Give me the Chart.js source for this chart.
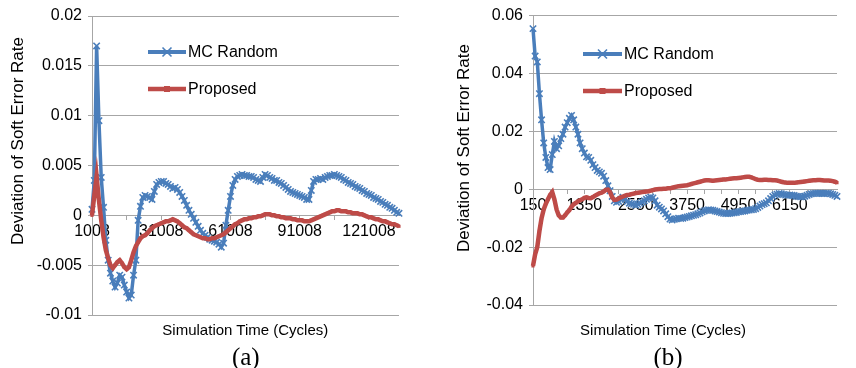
<!DOCTYPE html>
<html>
<head>
<meta charset="utf-8">
<script src="https://cdn.jsdelivr.net/npm/chart.js@4.4.1/dist/chart.umd.min.js"></script>
<style>
  html, body { margin: 0; padding: 0; background: #fff; }
  #wrap { position: relative; width: 856px; height: 368px; overflow: hidden; background: #fff;
          font-family: "Liberation Sans", Arial, sans-serif; color: #000; }
  canvas { position: absolute; top: 0; }
  .t { position: absolute; white-space: nowrap; text-align: center; }
  .ytitle { width: 300px; height: 20px; line-height: 20px; font-size: 17px; transform: rotate(-90deg); transform-origin: 50% 50%; }
  .xtitle { width: 300px; height: 20px; line-height: 20px; font-size: 15px; }
  .cap { width: 60px; height: 30px; line-height: 30px; font-size: 25px; font-family: "Liberation Serif", "Times New Roman", serif; }
  .leg { position: absolute; height: 20px; line-height: 20px; font-size: 16px; white-space: nowrap; }
  .legsw { position: absolute; }
</style>
</head>
<body>
<div id="wrap">
  <canvas id="ca" width="430" height="368" style="left:0;width:430px;height:368px"></canvas>
  <canvas id="cb" width="426" height="368" style="left:430px;width:426px;height:368px"></canvas>

  <div class="t ytitle" style="left:-131.7px;top:130.8px">Deviation of Soft Error Rate</div>
  <div class="t xtitle" style="left:95.3px;top:320px">Simulation Time (Cycles)</div>
  <div class="t cap" style="left:215.8px;top:342px">(a)</div>

  <div class="t ytitle" style="left:314.3px;top:137.5px">Deviation of Soft Error Rate</div>
  <div class="t xtitle" style="left:513px;top:320px">Simulation Time (Cycles)</div>
  <div class="t cap" style="left:638px;top:342px">(b)</div>

  <svg class="legsw" style="left:148px;top:46px" width="38" height="12"><line x1="0" y1="6" x2="38" y2="6" stroke="#4a7ebb" stroke-width="4"/><path d="M14.5 1.5 L23.5 10.5 M23.5 1.5 L14.5 10.5" stroke="#4a7ebb" stroke-width="1.6"/></svg>
  <div class="leg" style="left:188px;top:42px">MC Random</div>
  <svg class="legsw" style="left:148px;top:83px" width="38" height="12"><line x1="0" y1="6" x2="38" y2="6" stroke="#be4b48" stroke-width="4.5"/><rect x="16" y="3" width="6" height="6" fill="#be4b48"/></svg>
  <div class="leg" style="left:188px;top:79px">Proposed</div>

  <svg class="legsw" style="left:583px;top:48px" width="39" height="12"><line x1="0" y1="6" x2="39" y2="6" stroke="#4a7ebb" stroke-width="4"/><path d="M15 1.5 L24 10.5 M24 1.5 L15 10.5" stroke="#4a7ebb" stroke-width="1.6"/></svg>
  <div class="leg" style="left:624px;top:44px">MC Random</div>
  <svg class="legsw" style="left:583px;top:85px" width="39" height="12"><line x1="0" y1="6" x2="39" y2="6" stroke="#be4b48" stroke-width="4.5"/><rect x="16.5" y="3" width="6" height="6" fill="#be4b48"/></svg>
  <div class="leg" style="left:624px;top:81px">Proposed</div>
</div>
<script>
// ---------- Chart (a) ----------
const catsA = [1008,2008,3008,4008,5008,6008,7008,8008,9008,10008,
  11008,12008,13008,14008,15008,16008,17008,18008,19008,20008,
  21008,22008,23008,24008,25008,26008,27008,28008,29008,30008,
  31008,32008,33008,34008,35008,36008,37008,38008,39008,40008,
  41008,42008,43008,44008,45008,46008,47008,48008,49008,50008,
  51008,52008,53008,54008,55008,56008,57008,58008,59008,60008,
  61008,62008,63008,64008,65008,66008,67008,68008,69008,70008,
  71008,72008,73008,74008,75008,76008,77008,78008,79008,80008,
  81008,82008,83008,84008,85008,86008,87008,88008,89008,90008,
  91008,92008,93008,94008,95008,96008,97008,98008,99008,100008,
  101008,102008,103008,104008,105008,106008,107008,108008,109008,110008,
  111008,112008,113008,114008,115008,116008,117008,118008,119008,120008,
  121008,122008,123008,124008,125008,126008,127008,128008,129008,130008,
  131008,132008,133008,134008];
const mcRandomA = [0.0006,0.0035,0.0170,0.0095,0.0038,0.0008,-0.0025,-0.0045,-0.0058,-0.0066,
  -0.0072,-0.0068,-0.0060,-0.0062,-0.0070,-0.0077,-0.0083,-0.0080,-0.0060,-0.0045,
  -0.0005,0.0009,0.0018,0.0020,0.0019,0.0018,0.0016,0.0024,0.0031,0.0033,
  0.0034,0.0034,0.0032,0.0031,0.0029,0.0027,0.0028,0.0026,0.0023,0.0019,
  0.0015,0.0010,0.0005,0.0001,-0.0003,-0.0007,-0.0011,-0.0015,-0.0018,-0.0020,
  -0.0022,-0.0024,-0.0025,-0.0026,-0.0027,-0.0029,-0.0032,-0.0028,-0.0010,0.0005,
  0.0019,0.0030,0.0036,0.0039,0.0040,0.0041,0.0040,0.0040,0.0039,0.0039,
  0.0038,0.0036,0.0035,0.0034,0.0038,0.0041,0.0040,0.0038,0.0037,0.0035,
  0.0035,0.0033,0.0032,0.0030,0.0028,0.0026,0.0024,0.0023,0.0022,0.0021,
  0.0020,0.0019,0.0018,0.0016,0.0016,0.0025,0.0034,0.0036,0.0036,0.0037,
  0.0036,0.0038,0.0039,0.0040,0.0040,0.0041,0.0040,0.0039,0.0038,0.0036,
  0.0035,0.0033,0.0032,0.0031,0.0029,0.0028,0.0027,0.0025,0.0024,0.0022,
  0.0021,0.0020,0.0018,0.0017,0.0016,0.0014,0.0013,0.0011,0.0010,0.0008,
  0.0007,0.0005,0.0003,0.0002];
const proposedA = [0.0000,0.0020,0.0039,0.0015,-0.0005,-0.0022,-0.0035,-0.0043,-0.0050,-0.0053,
  -0.0050,-0.0047,-0.0045,-0.0048,-0.0052,-0.0054,-0.0052,-0.0045,-0.0037,-0.0031,
  -0.0027,-0.0023,-0.0021,-0.0020,-0.0018,-0.0015,-0.0013,-0.0011,-0.0010,-0.0009,
  -0.0008,-0.0007,-0.0006,-0.0006,-0.0005,-0.0004,-0.0005,-0.0006,-0.0008,-0.0010,
  -0.0012,-0.0013,-0.0015,-0.0017,-0.0019,-0.0020,-0.0021,-0.0022,-0.0023,-0.0023,
  -0.0024,-0.0024,-0.0023,-0.0023,-0.0022,-0.0021,-0.0020,-0.0019,-0.0017,-0.0015,
  -0.0013,-0.0011,-0.0009,-0.0008,-0.0006,-0.0005,-0.0004,-0.0004,-0.0003,-0.0003,
  -0.0002,-0.0002,-0.0001,-0.0001,0.0000,0.0001,0.0001,0.0001,0.0000,0.0000,
  -0.0001,-0.0001,-0.0002,-0.0002,-0.0003,-0.0003,-0.0003,-0.0004,-0.0004,-0.0005,
  -0.0005,-0.0005,-0.0006,-0.0006,-0.0006,-0.0005,-0.0004,-0.0003,-0.0002,-0.0001,
  0.0000,0.0001,0.0002,0.0003,0.0004,0.0004,0.0005,0.0005,0.0004,0.0004,
  0.0004,0.0003,0.0003,0.0002,0.0002,0.0002,0.0001,0.0001,0.0000,-0.0001,
  -0.0002,-0.0002,-0.0003,-0.0004,-0.0004,-0.0005,-0.0006,-0.0006,-0.0007,-0.0008,
  -0.0009,-0.0009,-0.0010,-0.0011];
const yTickValuesA = [-0.01, -0.005, 0, 0.005, 0.01, 0.015, 0.02];
const yTickLabelsA = ['-0.01', '-0.005', '0', '0.005', '0.01', '0.015', '0.02'];

// ---------- Chart (b) ----------
const catsB = [150,200,250,300,350,400,450,500,550,600,650,700,750,800,850,900,950,1000,1050,1100,
  1150,1200,1250,1300,1350,1400,1450,1500,1550,1600,1650,1700,1750,1800,1850,1900,1950,2000,2050,2100,
  2150,2200,2250,2300,2350,2400,2450,2500,2550,2600,2650,2700,2750,2800,2850,2900,2950,3000,3050,3100,
  3150,3200,3250,3300,3350,3400,3450,3500,3550,3600,3650,3700,3750,3800,3850,3900,3950,4000,4050,4100,
  4150,4200,4250,4300,4350,4400,4450,4500,4550,4600,4650,4700,4750,4800,4850,4900,4950,5000,5050,5100,
  5150,5200,5250,5300,5350,5400,5450,5500,5550,5600,5650,5700,5750,5800,5850,5900,5950,6000,6050,6100,
  6150,6200,6250,6300,6350,6400,6450,6500,6550,6600,6650,6700,6750,6800,6850,6900,6950,7000,7050,7100,
  7150,7200,7250];
const mcRandomB = [0.0555,0.0460,0.0440,0.0330,0.0240,0.0160,0.0110,0.0075,0.0068,0.0120,
  0.0165,0.0140,0.0150,0.0175,0.0190,0.0215,0.0230,0.0245,0.0255,0.0240,
  0.0215,0.0190,0.0160,0.0140,0.0125,0.0112,0.0110,0.0100,0.0085,0.0075,
  0.0065,0.0060,0.0055,0.0045,0.0030,0.0012,-0.0005,-0.0025,-0.0040,-0.0045,
  -0.0042,-0.0035,-0.0028,-0.0035,-0.0042,-0.0048,-0.0050,-0.0052,-0.0055,-0.0052,
  -0.0048,-0.0044,-0.0040,-0.0035,-0.0030,-0.0027,-0.0030,-0.0040,-0.0055,-0.0062,
  -0.0068,-0.0075,-0.0085,-0.0095,-0.0103,-0.0106,-0.0104,-0.0102,-0.0100,-0.0101,
  -0.0100,-0.0098,-0.0096,-0.0094,-0.0092,-0.0090,-0.0088,-0.0085,-0.0082,-0.0078,
  -0.0075,-0.0073,-0.0071,-0.0072,-0.0073,-0.0075,-0.0077,-0.0079,-0.0081,-0.0083,
  -0.0084,-0.0084,-0.0083,-0.0082,-0.0081,-0.0080,-0.0078,-0.0077,-0.0076,-0.0075,
  -0.0073,-0.0072,-0.0071,-0.0070,-0.0067,-0.0063,-0.0058,-0.0053,-0.0050,-0.0047,
  -0.0040,-0.0032,-0.0025,-0.0020,-0.0017,-0.0015,-0.0016,-0.0018,-0.0020,-0.0021,
  -0.0020,-0.0021,-0.0022,-0.0024,-0.0025,-0.0026,-0.0026,-0.0024,-0.0021,-0.0018,
  -0.0016,-0.0015,-0.0014,-0.0014,-0.0014,-0.0015,-0.0015,-0.0014,-0.0014,-0.0016,
  -0.0018,-0.0021,-0.0025];
const proposedB = [-0.0265,-0.0225,-0.0200,-0.0145,-0.0100,-0.0070,-0.0050,-0.0035,-0.0020,-0.0010,
  -0.0035,-0.0070,-0.0090,-0.0098,-0.0098,-0.0090,-0.0080,-0.0072,-0.0060,-0.0052,
  -0.0047,-0.0042,-0.0038,-0.0035,-0.0030,-0.0028,-0.0030,-0.0031,-0.0027,-0.0022,
  -0.0018,-0.0014,-0.0012,-0.0008,-0.0002,-0.0001,-0.0010,-0.0028,-0.0037,-0.0036,
  -0.0032,-0.0028,-0.0025,-0.0022,-0.0020,-0.0019,-0.0017,-0.0015,-0.0013,-0.0012,
  -0.0011,-0.0010,-0.0009,-0.0008,-0.0007,-0.0005,-0.0003,-0.0001,0.0000,0.0001,
  0.0001,0.0002,0.0002,0.0003,0.0003,0.0005,0.0007,0.0009,0.0010,0.0011,
  0.0012,0.0013,0.0014,0.0016,0.0018,0.0020,0.0022,0.0024,0.0026,0.0028,
  0.0030,0.0031,0.0031,0.0030,0.0029,0.0030,0.0031,0.0032,0.0033,0.0034,
  0.0034,0.0035,0.0036,0.0037,0.0038,0.0038,0.0039,0.0040,0.0041,0.0042,
  0.0043,0.0043,0.0041,0.0038,0.0035,0.0033,0.0032,0.0032,0.0033,0.0033,
  0.0032,0.0032,0.0031,0.0031,0.0030,0.0028,0.0026,0.0024,0.0023,0.0022,
  0.0022,0.0022,0.0022,0.0023,0.0024,0.0025,0.0026,0.0027,0.0028,0.0029,
  0.0030,0.0031,0.0031,0.0032,0.0032,0.0031,0.0030,0.0030,0.0030,0.0029,
  0.0028,0.0026,0.0023];
const yTickValuesB = [-0.04, -0.02, 0, 0.02, 0.04, 0.06];
const yTickLabelsB = ['-0.04', '-0.02', '0', '0.02', '0.04', '0.06'];

const seriesNames = ['MC Random', 'Proposed'];
const BLUE = '#4a7ebb', RED = '#be4b48', GRID = '#a6a6a6';

Chart.defaults.font.family = '"Liberation Sans", Arial, sans-serif';
Chart.defaults.color = '#000';

function makeChart(id, cats, blue, red, yVals, yLabels, labelEvery, tickEvery, yAxisWidth, pad) {
  return new Chart(document.getElementById(id), {
    type: 'line',
    data: {
      labels: cats.map(String),
      datasets: [
        { label: seriesNames[0], data: blue, borderColor: BLUE, backgroundColor: BLUE,
          borderWidth: 3.5, pointStyle: 'crossRot', pointRadius: 4.5, pointBorderWidth: 1.6,
          pointBorderColor: BLUE, tension: 0, order: 2 },
        { label: seriesNames[1], data: red, borderColor: RED, backgroundColor: RED,
          borderWidth: 4.5, pointStyle: 'rect', pointRadius: 2.2, pointBorderWidth: 0,
          pointBackgroundColor: RED, tension: 0, order: 1 }
      ]
    },
    options: {
      responsive: false, animation: false, devicePixelRatio: 1, events: [],
      layout: { padding: pad },
      plugins: { legend: { display: false }, tooltip: { enabled: false } },
      scales: {
        x: {
          type: 'category', position: { y: 0 }, offset: false,
          border: { display: true, color: GRID, width: 1 },
          grid: { display: true, drawOnChartArea: false, drawTicks: true, tickLength: 4,
                  tickColor: (c) => (c.index % tickEvery === 0 ? GRID : 'rgba(0,0,0,0)') },
          ticks: { autoSkip: false, maxRotation: 0, minRotation: 0, padding: 3,
                   font: { size: 16 }, color: '#000',
                   callback: (v, i) => (i % labelEvery === 0 ? String(cats[i]) : '') }
        },
        y: {
          type: 'linear', min: yVals[0], max: yVals[yVals.length - 1],
          afterFit: (s) => { s.width = yAxisWidth; },
          afterBuildTicks: (s) => { s.ticks = yVals.map(v => ({ value: v })); },
          border: { display: true, color: GRID, width: 1 },
          grid: { color: GRID, lineWidth: 1, drawTicks: true, tickLength: 4, tickColor: GRID },
          ticks: { padding: 6, font: { size: 16 }, color: '#000',
                   callback: (v, i) => yLabels[i] }
        }
      }
    }
  });
}

makeChart('ca', catsA, mcRandomA, proposedA, yTickValuesA, yTickLabelsA, 30, 15, 92,
          { left: 0, top: 16, right: 31, bottom: 53 });
makeChart('cb', catsB, mcRandomB, proposedB, yTickValuesB, yTickLabelsB, 24, 8, 103,
          { left: 0, top: 15, right: 19, bottom: 63 });
</script>
</body>
</html>
